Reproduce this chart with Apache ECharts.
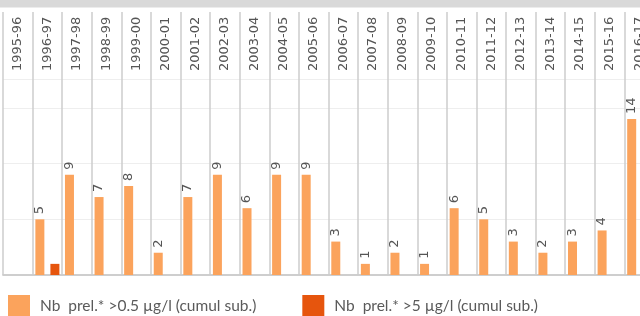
<!DOCTYPE html>
<html>
<head>
<meta charset="utf-8">
<script src="https://cdn.jsdelivr.net/npm/echarts@6/dist/echarts.min.js"></script>
<style>
  html, body { margin: 0; padding: 0; background: #fff; }
  #chart { width: 640px; height: 316px; }
</style>
</head>
<body>
<div id="chart"></div>
<script>
// categories (saisons)
let categories = ['1995-96', '1996-97', '1997-98', '1998-99', '1999-00', '2000-01', '2001-02', '2002-03',
  '2003-04', '2004-05', '2005-06', '2006-07', '2007-08', '2008-09', '2009-10', '2010-11', '2011-12',
  '2012-13', '2013-14', '2014-15', '2015-16', '2016-17']
// Nb prel. >0.5 µg/l
let seriesLow = ['-', 5, 9, 7, 8, 2, 7, 9, 6, 9, 9, 3, 1, 2, 1, 6, 5, 3, 2, 3, 4, 14]
// Nb prel. >5 µg/l
let seriesHigh = ['-', 1, '-', '-', '-', '-', '-', '-', '-', '-', '-', '-', '-', '-', '-', '-', '-', '-', '-', '-', '-', '-']
let nameLow = 'Nb  prel.* >0.5 µg/l (cumul sub.)'
let nameHigh = 'Nb  prel.* >5 µg/l (cumul sub.)'

let myChart = echarts.init(document.getElementById('chart'))

let sepColor = '#cccccc'
let textColor = '#555555'
let labelFont = '"DejaVu Sans", Verdana, sans-serif'

myChart.setOption({
  animation: false,
  graphic: [{
    type: 'rect',
    shape: { x: 0, y: 0, width: 640, height: 7.5 },
    style: { fill: '#d9d9d9' },
    silent: true
  }],
  legend: {
    left: 8,
    top: 295,
    padding: 0,
    icon: 'rect',
    itemWidth: 22,
    itemHeight: 22,
    itemGap: 46,
    textStyle: { fontFamily: 'Lato', fontSize: 15.5, color: '#5a5a5a', padding: [3, 0, 0, 5] },
    data: [nameLow, nameHigh]
  },
  grid: [
    // en-tete : seulement les separateurs verticaux (la grille depasse a droite)
    { left: 3, width: 651, top: 12, height: 67, outerBoundsMode: 'none', containLabel: false },
    // zone des barres
    { left: 3, width: 651, top: 79, bottom: 41, outerBoundsMode: 'none', containLabel: false }
  ],
  xAxis: [{
    gridIndex: 0,
    type: 'category',
    data: categories,
    axisLine: { show: false },
    axisTick: { show: false },
    axisLabel: { show: false },
    splitLine: { show: true, interval: 0, lineStyle: { color: sepColor, width: 1.5 } }
  }, {
    // axe du haut : libelles des saisons
    gridIndex: 1,
    type: 'category',
    position: 'top',
    data: categories,
    axisLine: { lineStyle: { color: sepColor, width: 1.5 } },
    axisTick: { show: false },
    axisLabel: {
      rotate: 90, margin: 8, interval: 0,
      color: textColor, fontSize: 13, fontFamily: labelFont
    }
  }, {
    // axe du bas : ligne de base et separateurs
    gridIndex: 1,
    type: 'category',
    position: 'bottom',
    data: categories,
    axisLine: { lineStyle: { color: sepColor, width: 1.5 } },
    axisTick: { show: false },
    axisLabel: { show: false },
    splitLine: { show: true, interval: 0, lineStyle: { color: sepColor, width: 1.5 } }
  }],
  yAxis: [{
    gridIndex: 0,
    type: 'value',
    min: 0,
    max: 1,
    show: false,
    splitLine: { show: false }
  }, {
    gridIndex: 1,
    type: 'value',
    min: 0,
    max: 17.6,
    interval: 5,
    axisLabel: { show: false },
    axisLine: { show: false },
    axisTick: { show: false },
    splitLine: { lineStyle: { color: '#eeeeee' } }
  }],
  series: [{
    name: nameLow,
    type: 'bar',
    xAxisIndex: 2,
    yAxisIndex: 1,
    data: seriesLow,
    barWidth: 9,
    barGap: '67%',
    itemStyle: { color: '#fba35c' },
    label: {
      show: true,
      position: 'top',
      rotate: 90,
      align: 'left',
      verticalAlign: 'middle',
      distance: 5,
      color: textColor,
      fontSize: 13,
      fontFamily: labelFont
    }
  }, {
    name: nameHigh,
    type: 'bar',
    xAxisIndex: 2,
    yAxisIndex: 1,
    data: seriesHigh,
    barWidth: 9,
    itemStyle: { color: '#e6550d' }
  }]
})
</script>
</body>
</html>
